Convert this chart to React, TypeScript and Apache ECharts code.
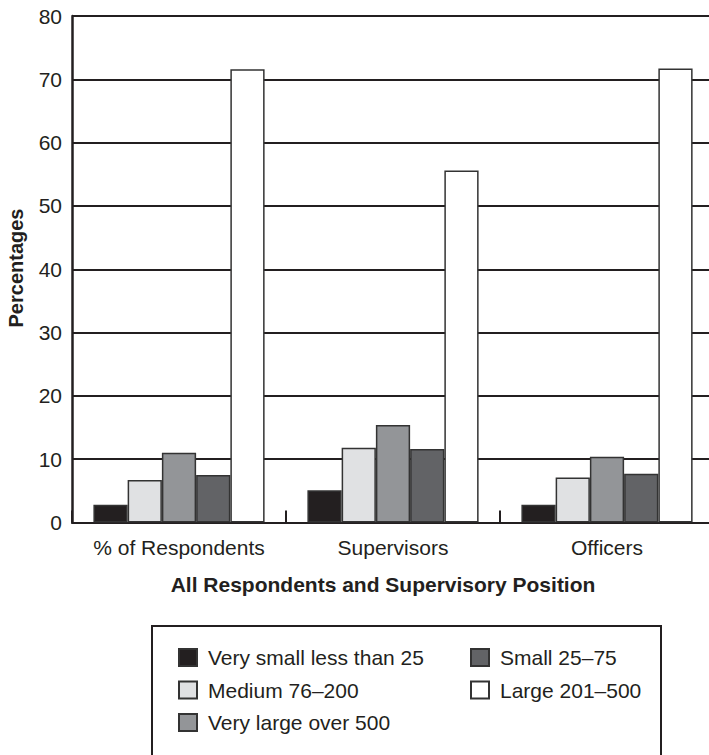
import React, { useEffect, useRef } from "react";
import * as echarts from "echarts";

const categories = ["% of Respondents", "Supervisors", "Officers"];
const seriesNames = [
  "Very small less than 25",
  "Medium 76–200",
  "Very large over 500",
  "Small 25–75",
  "Large 201–500",
];
const verySmall = [2.8, 5.1, 2.8];
const medium = [6.7, 11.8, 7.1];
const veryLarge = [11.0, 15.4, 10.4];
const small = [7.5, 11.6, 7.7];
const large = [71.6, 55.6, 71.7];
const seriesValues = [verySmall, medium, veryLarge, small, large];
const seriesColors = ["#231f20", "#e0e1e3", "#939598", "#626366", "#ffffff"];
const yTicks = [0, 80, 10];

const FONT = "'Liberation Sans', Arial, Helvetica, sans-serif";
const INK = "#231f20";

export default function App() {
  const ref = useRef<HTMLDivElement>(null);
  useEffect(() => {
    if (!ref.current) return;
    const chart = echarts.init(ref.current, undefined, { renderer: "svg" });
    const legendCommon = {
      orient: "vertical",
      top: 642,
      itemWidth: 18,
      itemHeight: 17,
      itemGap: 11.5,
      icon: "rect",
      textStyle: { fontSize: 21, color: INK, fontFamily: FONT, padding: [0, 0, 0, 6] },
    };
    chart.setOption({
      animation: false,
      backgroundColor: "#ffffff",
      textStyle: { fontFamily: FONT, color: INK },
      grid: { left: 72, top: 16, right: 0, bottom: 232.5, outerBoundsMode: "none", containLabel: false },
      xAxis: {
        type: "category",
        data: categories,
        axisLine: { lineStyle: { color: INK, width: 2 } },
        axisTick: { show: true, inside: true, interval: 0, length: 12, lineStyle: { color: INK, width: 2 } },
        axisLabel: { fontSize: 21, color: INK, fontFamily: FONT, margin: 14, interval: 0, hideOverlap: false },
        splitLine: { show: false },
      },
      yAxis: {
        type: "value",
        min: yTicks[0],
        max: yTicks[1],
        interval: yTicks[2],
        axisLine: { show: true, lineStyle: { color: INK, width: 2.5 } },
        axisTick: { show: false },
        axisLabel: { fontSize: 21, color: INK, fontFamily: FONT, margin: 10 },
        splitLine: { show: true, lineStyle: { color: INK, width: 2 } },
      },
      legend: [
        { ...legendCommon, data: [seriesNames[0], seriesNames[1], seriesNames[2]], left: 173 },
        { ...legendCommon, data: [seriesNames[3], seriesNames[4]], left: 465 },
      ],
      graphic: [
        {
          type: "text",
          x: 16,
          y: 268,
          rotation: Math.PI / 2,
          style: {
            text: "Percentages",
            font: `bold 20px ${FONT}`,
            fill: INK,
            align: "center",
            verticalAlign: "middle",
          },
        },
        {
          type: "text",
          x: 383,
          y: 584,
          style: {
            text: "All Respondents and Supervisory Position",
            font: `bold 21px ${FONT}`,
            fill: INK,
            align: "center",
            verticalAlign: "middle",
          },
        },
        {
          type: "rect",
          shape: { x: 152, y: 626, width: 509, height: 160 },
          style: { fill: "none", stroke: INK, lineWidth: 2 },
          z: -1,
        },
      ],
      series: seriesNames.map((name, i) => ({
        name,
        type: "bar",
        data: seriesValues[i],
        barGap: "0%",
        barCategoryGap: "20%",
        itemStyle: { color: seriesColors[i], borderColor: "#333333", borderWidth: 1.5 },
      })),
    });
    return () => chart.dispose();
  }, []);
  return (
    <div style={{ position: "fixed", left: 0, top: 0, width: 709, height: 755, overflow: "hidden" }}>
      <div ref={ref} style={{ width: 714, height: 755 }} />
    </div>
  );
}
